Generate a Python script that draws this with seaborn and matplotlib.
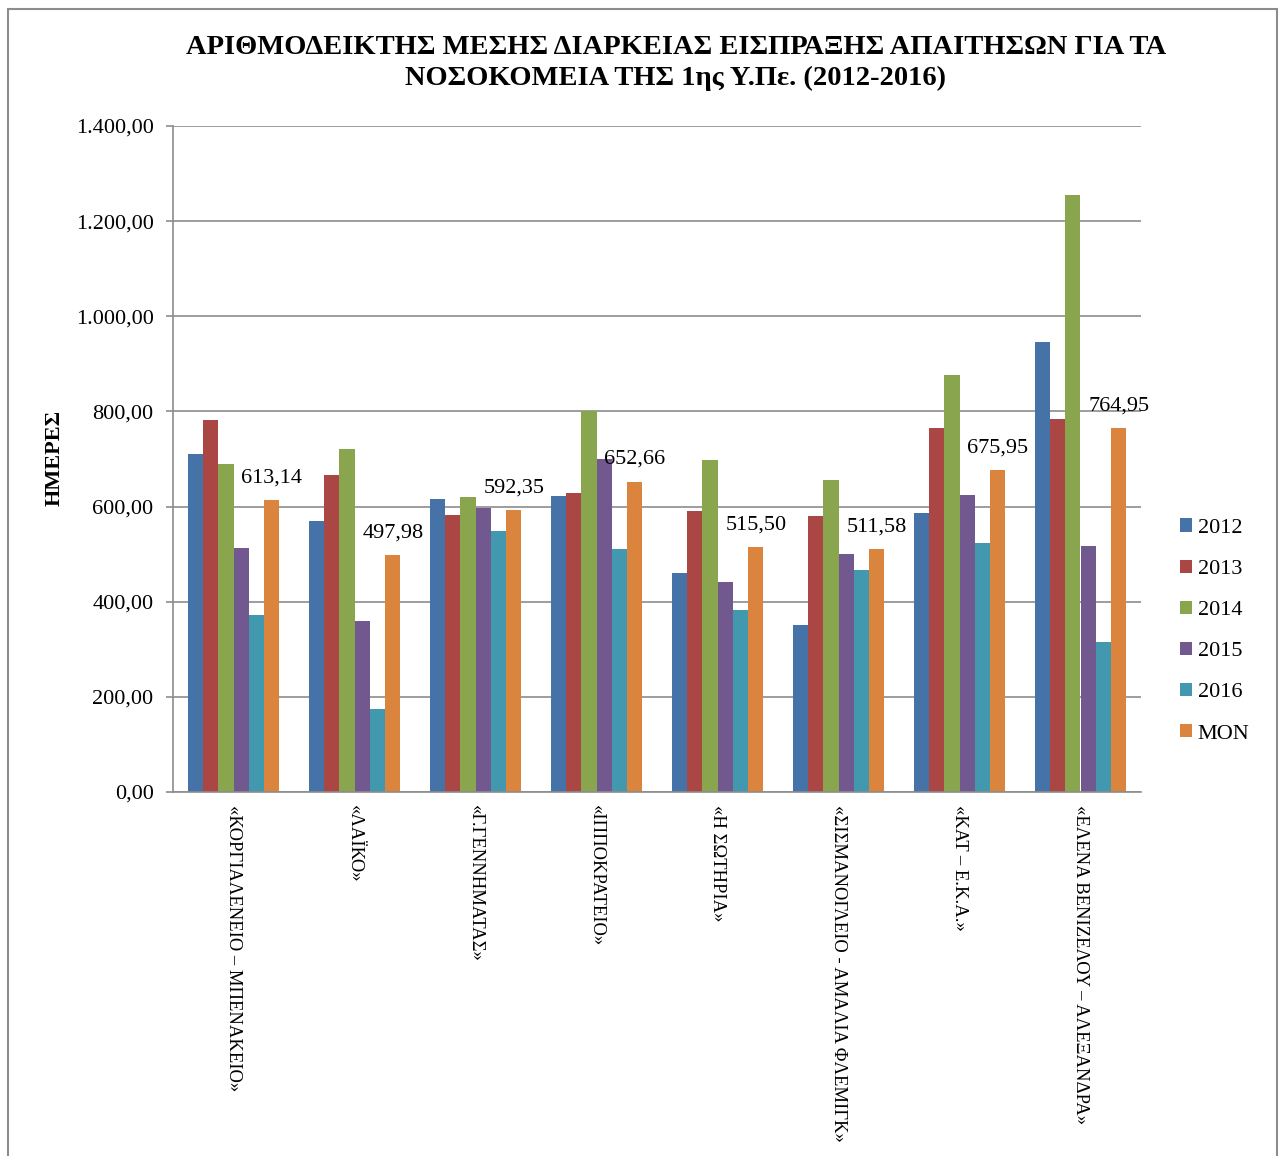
import matplotlib
matplotlib.use("Agg")
import matplotlib.pyplot as plt
import seaborn as sns
import pandas as pd
from matplotlib.ticker import FuncFormatter, MultipleLocator
from matplotlib.patches import Rectangle, Patch

hospitals = [
    "«ΚΟΡΓΙΑΛΕΝΕΙΟ – ΜΠΕΝΑΚΕΙΟ»",
    "«ΛΑΪΚΟ»",
    "«Γ.ΓΕΝΝΗΜΑΤΑΣ»",
    "«ΙΠΠΟΚΡΑΤΕΙΟ»",
    "«Η ΣΩΤΗΡΙΑ»",
    "«ΣΙΣΜΑΝΟΓΛΕΙΟ - ΑΜΑΛΙΑ ΦΛΕΜΙΓΚ»",
    "«ΚΑΤ – Ε.Κ.Α.»",
    "«ΕΛΕΝΑ ΒΕΝΙΖΕΛΟΥ – ΑΛΕΞΑΝΔΡΑ»",
]
series_names = ["2012", "2013", "2014", "2015", "2016", "MON"]
y2012 = [710, 570, 616, 623, 460, 351, 586, 946]
y2013 = [782, 666, 582, 629, 591, 581, 765, 784]
y2014 = [689, 720, 620, 800, 697, 656, 876, 1256]
y2015 = [512, 360, 598, 701, 442, 500, 624, 518]
y2016 = [373, 174, 549, 511, 383, 466, 524, 316]
mon = [613.14, 497.98, 592.35, 652.66, 515.50, 511.58, 675.95, 764.95]
colors = ["#4572A7", "#AA4643", "#89A54E", "#71588F", "#4198AF", "#DB843D"]

title = "ΑΡΙΘΜΟΔΕΙΚΤΗΣ ΜΕΣΗΣ ΔΙΑΡΚΕΙΑΣ ΕΙΣΠΡΑΞΗΣ ΑΠΑΙΤΗΣΩΝ ΓΙΑ ΤΑ\nΝΟΣΟΚΟΜΕΙΑ ΤΗΣ 1ης Υ.Πε. (2012-2016)"
ylabel = "ΗΜΕΡΕΣ"

all_series = [y2012, y2013, y2014, y2015, y2016, mon]
rows = []
for name, vals in zip(series_names, all_series):
    for h, v in zip(hospitals, vals):
        rows.append({"hospital": h, "series": name, "value": v})
df = pd.DataFrame(rows)

sns.set_style("white")
plt.rcParams["font.family"] = ["Liberation Serif", "DejaVu Serif"]
plt.rcParams["text.color"] = "black"
plt.rcParams["xtick.color"] = "black"
plt.rcParams["ytick.color"] = "black"
plt.rcParams["axes.labelcolor"] = "black"

W, H = 1279, 1156
fig = plt.figure(figsize=(W / 100, H / 100), dpi=100)
ax = fig.add_axes([173 / W, 1 - 792 / H, (1141 - 173) / W, (792 - 126) / H])

palette = dict(zip(series_names, colors))
sns.barplot(data=df, x="hospital", y="value", hue="series", order=hospitals,
            hue_order=series_names, palette=palette, width=0.76, gap=0,
            saturation=1, edgecolor="none", linewidth=0, ax=ax, errorbar=None)

ax.set_xlim(-0.5, 7.5)
ax.set_ylim(0, 1400)
ax.yaxis.set_major_locator(MultipleLocator(200))

def fmt(v, pos=None):
    s = f"{v:,.2f}"
    return s.replace(",", "X").replace(".", ",").replace("X", ".")

ax.yaxis.set_major_formatter(FuncFormatter(fmt))
grid_c = "#8c8c8c"
ax.grid(axis="y", color=grid_c, linewidth=1.2)
ax.set_axisbelow(True)
for s in ["top", "right"]:
    ax.spines[s].set_visible(False)
for s in ["left", "bottom"]:
    ax.spines[s].set_color(grid_c)
    ax.spines[s].set_linewidth(1.2)
ax.tick_params(axis="y", left=True, length=5, width=1.2, color=grid_c,
               labelcolor="black", pad=9, labelsize=16)
ax.tick_params(axis="x", bottom=False, pad=6, labelsize=13.4, labelcolor="black")
ax.set_xticks(range(len(hospitals)))
ax.set_xticklabels(hospitals, rotation=-90, ha="center", va="top")
ax.set_xlabel("")
ax.set_ylabel("")

mon_container = ax.containers[-1]
ax.bar_label(mon_container, labels=[fmt(v) for v in mon], padding=9, fontsize=16,
             color="black")

handles = [Patch(facecolor=c, edgecolor="none") for c in colors]
leg = ax.legend(handles, series_names, loc="center left",
                bbox_to_anchor=(1180 / W, 1 - 631 / H), bbox_transform=fig.transFigure,
                frameon=False, fontsize=16, labelspacing=0.97, handlelength=0.55,
                handleheight=0.55, handletextpad=0.25, borderpad=0, borderaxespad=0)
for t in leg.get_texts():
    t.set_color("black")

fig.text(676 / W, 1 - 63 / H, title, ha="center", va="center", fontsize=20.5,
         fontweight="bold", linespacing=1.3, color="black")
fig.text(55 / W, 1 - 458 / H, ylabel, ha="center", va="center", rotation=90,
         fontsize=16, fontweight="bold", color="black")

fig.patches.append(Rectangle((8 / W, -0.05), (1277 - 8) / W, 1.05 - 9 / H,
                             transform=fig.transFigure, fill=False,
                             edgecolor="#8c8c8c", linewidth=1.5))

fig.savefig("out.png", dpi=100)
